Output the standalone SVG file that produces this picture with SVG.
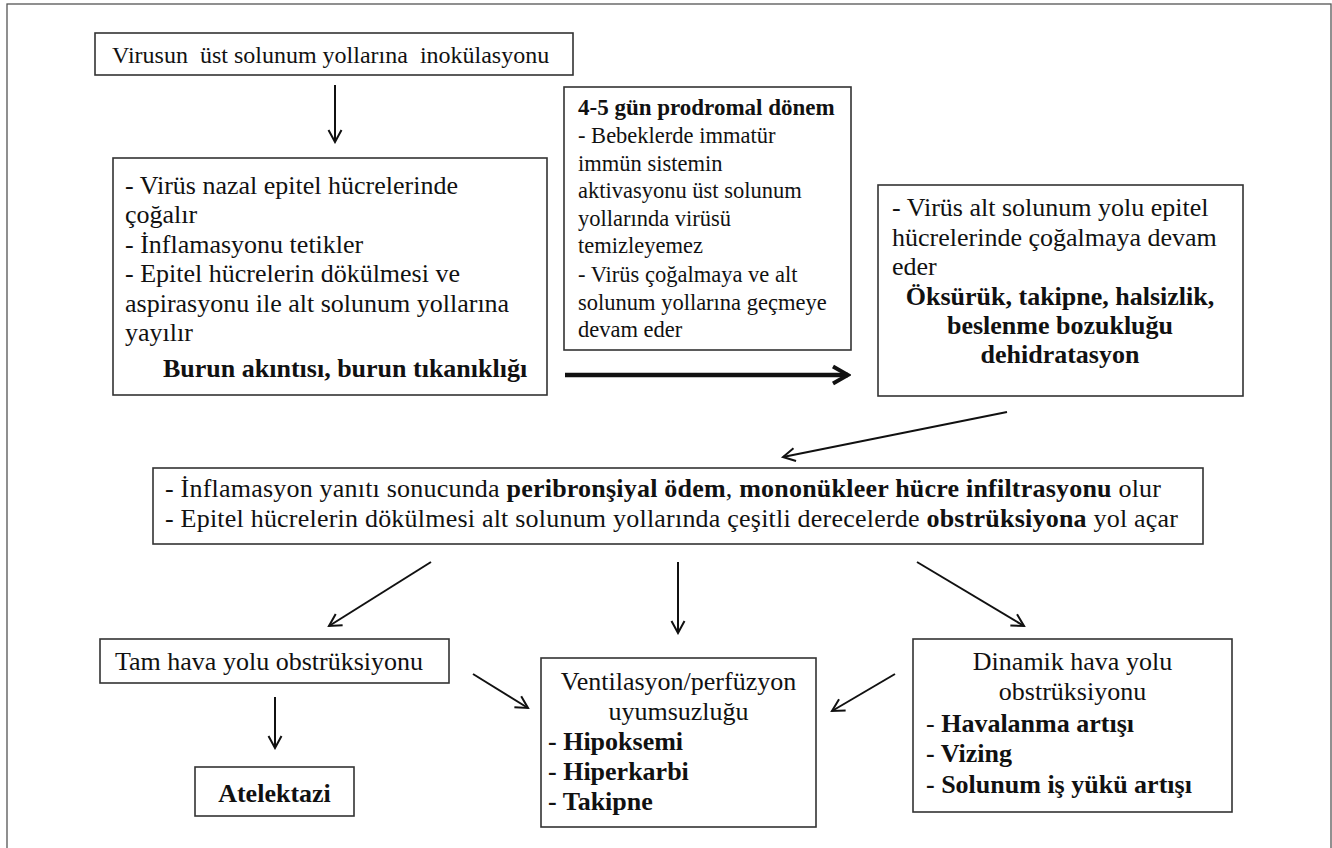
<svg xmlns="http://www.w3.org/2000/svg" width="1332" height="848" viewBox="0 0 1332 848">
<defs>
<style>
.box{fill:#fff;stroke:#333;stroke-width:1.6}
.t{font-family:'Liberation Serif','Times New Roman',Times,'Nimbus Roman','DejaVu Serif',serif;fill:#111}
.s22{font-size:22.5px}.s23{font-size:23px}.s24{font-size:24px}.s26{font-size:26px}
.b{font-weight:bold}
.m{text-anchor:middle}
.ln{stroke:#111;stroke-width:2;fill:none}
.thick{stroke:#111;stroke-width:4.5;fill:none}
</style>
<marker id="ah" viewBox="0 0 16 16" refX="14" refY="8" markerWidth="16" markerHeight="16" markerUnits="userSpaceOnUse" orient="auto">
<path d="M2,1.5 L14,8 L2,14.5" fill="none" stroke="#111" stroke-width="2"/>
</marker>
<marker id="ahb" viewBox="0 0 22 22" refX="19" refY="11" markerWidth="22" markerHeight="22" markerUnits="userSpaceOnUse" orient="auto">
<path d="M4,2.5 L19,11 L4,19.5" fill="none" stroke="#111" stroke-width="4"/>
</marker>
</defs>
<rect width="1332" height="848" fill="#fff"/>
<rect x="7" y="4" width="1324" height="870" fill="none" stroke="#555" stroke-width="1.3"/>

<g id="connectors">
<line class="ln" x1="335" y1="85" x2="335" y2="142" marker-end="url(#ah)"/>
<line class="thick" x1="565" y1="375" x2="848" y2="375" marker-end="url(#ahb)"/>
<line class="ln" x1="1007" y1="412" x2="783" y2="457" marker-end="url(#ah)"/>
<line class="ln" x1="431" y1="562" x2="329" y2="626" marker-end="url(#ah)"/>
<line class="ln" x1="678" y1="562" x2="678" y2="633" marker-end="url(#ah)"/>
<line class="ln" x1="917" y1="562" x2="1024" y2="626" marker-end="url(#ah)"/>
<line class="ln" x1="275" y1="697" x2="275" y2="748" marker-end="url(#ah)"/>
<line class="ln" x1="473" y1="674" x2="528" y2="708" marker-end="url(#ah)"/>
<line class="ln" x1="895" y1="674" x2="832" y2="711" marker-end="url(#ah)"/>
</g>

<g id="n1">
<rect class="box" x="95" y="33" width="478" height="42"/>
<text class="t s24" x="112" y="63" xml:space="preserve">Virusun  üst solunum yollarına  inokülasyonu</text>
</g>

<g id="n2">
<rect class="box" x="113" y="158" width="434" height="237"/>
<text class="t s26" x="125" y="194">- Virüs nazal epitel hücrelerinde</text>
<text class="t s26" x="125" y="223">çoğalır</text>
<text class="t s26" x="125" y="253">- İnflamasyonu tetikler</text>
<text class="t s26" x="125" y="282">- Epitel hücrelerin dökülmesi ve</text>
<text class="t s26" x="125" y="312">aspirasyonu ile alt solunum yollarına</text>
<text class="t s26" x="125" y="341">yayılır</text>
<text class="t s26 b" x="163" y="377">Burun akıntısı, burun tıkanıklığı</text>
</g>

<g id="n3">
<rect class="box" x="564" y="87" width="287" height="263"/>
<text class="t s23 b" x="578" y="115">4-5 gün prodromal dönem</text>
<text class="t s22" x="578" y="143">- Bebeklerde immatür</text>
<text class="t s22" x="578" y="171">immün sistemin</text>
<text class="t s22" x="578" y="198">aktivasyonu üst solunum</text>
<text class="t s22" x="578" y="226">yollarında virüsü</text>
<text class="t s22" x="578" y="253">temizleyemez</text>
<text class="t s22" x="578" y="282">- Virüs çoğalmaya ve alt</text>
<text class="t s22" x="578" y="310">solunum yollarına geçmeye</text>
<text class="t s22" x="578" y="337">devam eder</text>
</g>

<g id="n4">
<rect class="box" x="878" y="185" width="365" height="211"/>
<text class="t s26" x="892" y="216">- Virüs alt solunum yolu epitel</text>
<text class="t s26" x="892" y="246">hücrelerinde çoğalmaya devam</text>
<text class="t s26" x="892" y="275">eder</text>
<text class="t s26 b m" x="1060" y="305">Öksürük, takipne, halsizlik,</text>
<text class="t s26 b m" x="1060" y="334">beslenme bozukluğu</text>
<text class="t s26 b m" x="1060" y="363">dehidratasyon</text>
</g>

<g id="n5">
<rect class="box" x="153" y="468" width="1050" height="76"/>
<text class="t s26" x="165" y="497" textLength="996" lengthAdjust="spacing">- İnflamasyon yanıtı sonucunda <tspan class="b">peribronşiyal ödem</tspan>, <tspan class="b">mononükleer hücre infiltrasyonu</tspan> olur</text>
<text class="t s26" x="165" y="527" textLength="1013" lengthAdjust="spacing">- Epitel hücrelerin dökülmesi alt solunum yollarında çeşitli derecelerde <tspan class="b">obstrüksiyona</tspan> yol açar</text>
</g>

<g id="n6">
<rect class="box" x="100" y="639" width="349" height="44"/>
<text class="t s26" x="115" y="670">Tam hava yolu obstrüksiyonu</text>
</g>

<g id="n7">
<rect class="box" x="195" y="767" width="159" height="49"/>
<text class="t s26 b m" x="274.5" y="802">Atelektazi</text>
</g>

<g id="n8">
<rect class="box" x="541" y="658" width="275" height="169"/>
<text class="t s26 m" x="678.5" y="690">Ventilasyon/perfüzyon</text>
<text class="t s26 m" x="678.5" y="720">uyumsuzluğu</text>
<text class="t s26 b" x="548" y="750">- Hipoksemi</text>
<text class="t s26 b" x="548" y="780">- Hiperkarbi</text>
<text class="t s26 b" x="548" y="810">- Takipne</text>
</g>

<g id="n9">
<rect class="box" x="913" y="639" width="319" height="173"/>
<text class="t s26 m" x="1072.5" y="670">Dinamik hava yolu</text>
<text class="t s26 m" x="1072.5" y="700">obstrüksiyonu</text>
<text class="t s26" x="926" y="732">- <tspan class="b">Havalanma artışı</tspan></text>
<text class="t s26 b" x="926" y="762">- Vizing</text>
<text class="t s26 b" x="926" y="793">- Solunum iş yükü artışı</text>
</g>
</svg>
